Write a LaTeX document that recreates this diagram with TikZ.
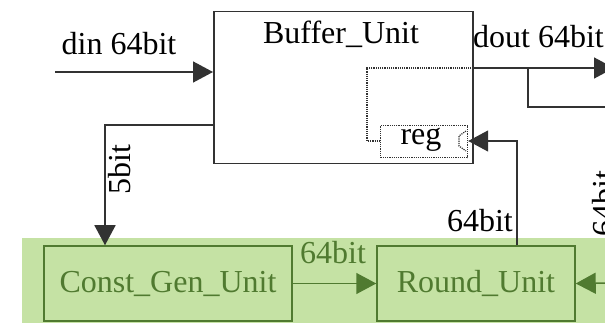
\documentclass[tikz,border=0pt]{standalone}
\usepackage{fontspec}
\setmainfont{Liberation Serif}
\usetikzlibrary{arrows.meta}
\definecolor{band}{RGB}{197,226,164}
\definecolor{dgreen}{RGB}{80,122,48}
\definecolor{lgray}{RGB}{50,50,50}
\begin{document}
\begin{tikzpicture}[x=1pt,y=-1pt,
  every node/.style={font=\fontsize{32}{36}\selectfont, inner sep=0pt},
  blk/.style={draw=lgray, line width=1.5pt, anchor=north west},
  gblk/.style={draw=dgreen, line width=1.5pt, text=dgreen},
  arr/.style={draw=lgray, line width=1.5pt, -{Triangle[length=20pt,width=21pt]}},
  garr/.style={draw=dgreen, line width=1.5pt, -{Triangle[length=20pt,width=21pt]}},
  wire/.style={draw=lgray, line width=1.5pt},
  dots/.style={draw=lgray, line width=1.2pt, dash pattern=on 1.2pt off 1pt},
  lbl/.style={anchor=base}]
\useasboundingbox (0,0) rectangle (605,323);
\clip (0,0) rectangle (605,323);
\fill[band] (22,238) rectangle (605,323);
% Buffer unit
\node[blk, minimum width=259pt, minimum height=152pt] (buf) at (213,11) {};
\node[lbl] (bufl) at (341,44) {Buffer\_Unit};
% reg
\node[dots, draw, anchor=north west, minimum width=87pt, minimum height=32pt] (reg) at (380,125) {};
\node[lbl] (regl) at (421,145) {reg};
\draw[dots] (466,131) -- (459,136) -- (459,146) -- (466,151);
% lower units
\node[gblk, minimum width=248pt, minimum height=75pt] (cg) at (168,283.5) {Const\_Gen\_Unit};
\node[gblk, minimum width=198pt, minimum height=75pt] (ru) at (476,283.5) {Round\_Unit};
% coordinates
\coordinate (dinS) at (55,72);
\coordinate (doutE) at (614,68);
\coordinate (brT) at (528,68);
\coordinate (brE) at (610,107);
\coordinate (fivebend) at (105,125);
\coordinate (regbend) at (517,141);
\coordinate (dotL) at (367,68);
\coordinate (dotB) at (367,141);
\coordinate (rin) at (615,283);
% din
\draw[arr] (dinS) -- (buf.west |- dinS);
\node[lbl] (dinl) at (119,55) {din 64bit};
% dout
\draw[arr] (buf.east |- doutE) -- (doutE);
\draw[wire] (brT) |- (brE);
\node[anchor=base west] (doutl) at (473,48) {dout 64bit};
% dotted reg path
\draw[dots] (buf.east |- dotL) -- (dotL) -- (dotB) -- (reg.west |- dotB);
% 5bit
\draw[arr] (buf.west |- fivebend) -- (fivebend) -- (cg.north -| fivebend);
\node[lbl, rotate=90] (fivel) at (130,170) {5bit};
% round -> reg
\draw[arr] (ru.north -| regbend) -- (regbend) -- (reg.east |- regbend);
\node[anchor=base east] (r64) at (513,232) {64bit};
% const -> round
\draw[garr] (cg.east) -- (ru.west);
\node[anchor=base, text=dgreen] (c64) at (333,263) {64bit};
% right input to round
\draw[garr] (rin) -- (ru.east);
\node[anchor=base west, rotate=90] (rl) at (614,237) {64bit};
\end{tikzpicture}
\end{document}
